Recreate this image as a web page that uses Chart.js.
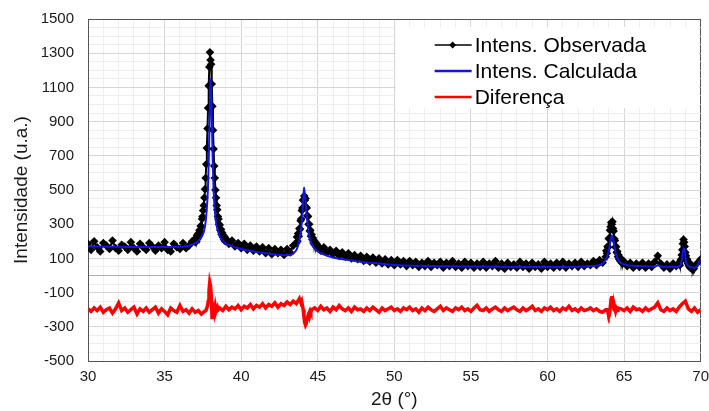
<!DOCTYPE html>
<html>
<head>
<meta charset="utf-8">
<script src="https://cdn.jsdelivr.net/npm/chart.js@4.4.0/dist/chart.umd.min.js"></script>
<style>
  html, body { margin: 0; padding: 0; background: #fff; }
  #wrap { width: 709px; height: 411px; position: relative; }
</style>
</head>
<body>
<div id="wrap"><canvas id="xrd"></canvas></div>
<script>
// Legend labels and tick labels
const seriesLabels = ['Intens. Observada', 'Intens. Calculada', 'Diferença'];
const xTickLabels = [30, 35, 40, 45, 50, 55, 60, 65, 70];
const yTickLabels = [-500, -300, -100, 100, 300, 500, 700, 900, 1100, 1300, 1500];

const obsStart = [30.0, 37.0, 39.0, 43.6, 45.0, 63.8, 65.0, 68.6, 69.6];
const obsStep  = [0.2, 0.04, 0.2, 0.04, 0.2, 0.04, 0.2, 0.04, 0.2];
const obsA = [185, 150, 200, 165, 140, 190, 175, 155, 205, 160, 145, 180, 170, 150, 195, 160, 140, 185,
  165, 150, 190, 170, 145, 175, 160, 195, 150, 140, 185, 165, 155, 190, 160, 175, 200];
const obsB = [195, 220, 200, 235, 215, 245, 230, 265, 255, 290,
  285, 330, 345, 380, 410, 455, 505, 570, 650, 745,
  860, 980, 1110, 1220, 1305, 1260, 1235, 1120, 990, 850,
  740, 640, 570, 500, 455, 410, 385, 345, 330, 300,
  295, 265, 270, 240, 250, 225, 235, 210, 225, 200];
const obsC = [215, 185, 205, 170, 190, 160, 185, 150, 175, 145, 170, 140, 165, 130, 160, 125, 155, 130,
  150, 120, 155, 135, 175];
const obsD = [190, 225, 200, 245, 230, 275, 270, 320, 330, 380,
  395, 440, 445, 465, 440, 450, 400, 395, 350, 345,
  300, 300, 260, 265, 230, 240, 210, 220, 190, 205,
  180, 195, 170, 185, 165];
const obsE = [175, 145, 165, 135, 150, 125, 145, 115, 135, 110, 130, 100, 120, 95, 115,
  85, 110, 80, 105, 75, 100, 70, 95, 65, 90, 60, 90, 65, 85, 55,
  85, 60, 80, 50, 75, 55, 85, 50, 75, 60, 80, 45, 75, 55, 85,
  50, 70, 45, 80, 55, 75, 45, 70, 50, 80, 45, 70, 55, 85, 45,
  70, 40, 75, 50, 65, 45, 80, 50, 70, 40, 75, 50, 65, 40, 80,
  50, 70, 45, 75, 50, 80, 45, 70, 55, 75, 50, 80, 55, 70, 60,
  85, 60, 90, 75];
const obsF = [110, 145, 130, 170, 165, 215, 220, 265, 285, 310,
  300, 315, 275, 260, 215, 205, 165, 170, 135, 140,
  110, 120, 95, 105, 85, 95, 75, 90, 70, 85];
const obsG = [80, 55, 75, 45, 70, 50, 75, 45, 70, 50, 80, 115, 70, 45, 65, 40, 70, 55];
const obsH = [75, 60, 85, 95, 120, 150, 185, 210, 195, 170, 135, 115, 90, 95, 70, 80, 55, 65, 45, 60,
  40, 55, 35, 50, 40];
const obsI = [55, 75, 95];
const obsRuns = [obsA, obsB, obsC, obsD, obsE, obsF, obsG, obsH, obsI];

// Calculated (fitted) profile
const calcTheta = [30, 32, 34, 36, 36.8, 37.2, 37.5, 37.6, 37.7, 37.8, 37.85, 37.9, 37.95, 38.0, 38.05,
  38.1, 38.15, 38.2, 38.3, 38.4, 38.6, 38.9, 39.3, 40, 41, 42, 43, 43.4, 43.7, 43.9, 44.0, 44.1,
  44.15, 44.25, 44.35, 44.5, 44.7, 45, 45.5, 46, 47, 48, 49, 50, 52, 55, 58, 61, 63, 63.6, 63.9,
  64.05, 64.2, 64.35, 64.5, 64.7, 65, 66, 67, 67.2, 67.4, 68.5, 68.75, 68.88, 68.95, 69.05, 69.3,
  69.6, 69.8, 70];
const calcIntensity = [170, 168, 166, 168, 180, 200, 240, 270, 330, 450, 560, 750, 950, 1150, 1050,
  850, 650, 500, 360, 290, 230, 195, 175, 155, 138, 125, 118, 128, 170, 260, 360, 515,
  480, 380, 290, 210, 170, 140, 120, 105, 90, 78, 70, 62, 56, 52, 50, 50, 55, 70, 110,
  170, 235, 180, 115, 80, 65, 55, 52, 60, 52, 50, 80, 160, 150, 80, 50,
  45, 60, 95];

// Difference curve (offset below zero), runs as above
const diffStart = [30.0, 37.7, 38.6, 43.9, 44.8, 63.9, 64.8];
const diffStep  = [0.2, 0.05, 0.2, 0.05, 0.2, 0.05, 0.2];
const diffA = [-195, -210, -190, -205, -185, -215, -200, -190, -220, -195,
  -160, -205, -190, -215, -200, -185, -225, -195, -210, -190,
  -215, -200, -185, -220, -195, -210, -230, -190, -205, -215,
  -175, -210, -200, -220, -195, -215, -205, -225, -210];
const diffB = [-205, -190, -180, -150, -90, -40, -60, -120, -245, -230, -190, -205, -180, -210, -195, -185, -200];
const diffC = [-190, -205, -180, -200, -185, -195, -175, -200, -180, -190, -170, -195, -175, -185,
  -165, -190, -170, -180, -160, -185, -165, -175, -155, -170, -150, -165, -135];
const diffD = [-160, -150, -175, -200, -240, -275, -290, -280, -255, -240, -225, -215, -205, -215, -200];
const diffE = [-190, -205, -180, -200, -190, -210, -185, -200, -175, -195,
  -205, -190, -210, -185, -200, -195, -210, -190, -205, -185,
  -200, -215, -190, -205, -195, -185, -205, -195, -210, -190,
  -200, -185, -205, -195, -215, -190, -205, -185, -200, -210,
  -195, -180, -205, -190, -200, -210, -190, -200, -185, -205,
  -195, -210, -190, -175, -200, -205, -190, -210, -195, -185,
  -200, -210, -190, -205, -195, -185, -200, -210, -190, -205,
  -195, -180, -205, -195, -210, -190, -200, -185, -205, -195,
  -210, -190, -200, -180, -205, -195, -210, -190, -205, -200,
  -190, -205, -195, -210, -215, -200];
const diffF = [-200, -215, -240, -225, -185, -140, -120, -145, -180, -200, -190, -210, -195, -205, -190];
const diffG = [-195, -205, -190, -210, -185, -200, -195, -210, -190, -205, -195, -185, -160, -200,
  -210, -190, -205, -195, -210, -185, -165, -150, -195, -210, -190, -215, -200];
const diffRuns = [diffA, diffB, diffC, diffD, diffE, diffF, diffG];

function runsToPoints(starts, steps, runs) {
  const pts = [];
  runs.forEach((vals, r) => {
    vals.forEach((v, i) => pts.push({ x: +(starts[r] + i * steps[r]).toFixed(2), y: v }));
  });
  return pts;
}

const observed = runsToPoints(obsStart, obsStep, obsRuns);
const calculated = calcTheta.map((t, i) => ({ x: t, y: calcIntensity[i] }));
const difference = runsToPoints(diffStart, diffStep, diffRuns);

const FONT = '"Liberation Sans", Arial, sans-serif';
Chart.defaults.font.family = FONT;
Chart.defaults.color = '#1a1a1a';

// Legend drawn as a white box inside the plot, upper right
const legendBox = {
  id: 'legendBox',
  afterDatasetsDraw(chart) {
    const ctx = chart.ctx;
    const a = chart.chartArea;
    const x0 = a.right - 305, y0 = a.top + 8;
    ctx.save();
    ctx.fillStyle = '#fff';
    ctx.fillRect(x0, y0, 303, 81);
    ctx.font = '21px ' + FONT;
    ctx.textBaseline = 'middle';
    chart.data.datasets.forEach((ds, i) => {
      const y = y0 + 18 + i * 26;
      ctx.strokeStyle = ds.borderColor;
      ctx.lineWidth = i === 0 ? 1.5 : 2.5;
      ctx.beginPath();
      ctx.moveTo(x0 + 39, y);
      ctx.lineTo(x0 + 76, y);
      ctx.stroke();
      if (i === 0) {
        const cx = x0 + 57;
        ctx.fillStyle = '#000';
        ctx.beginPath();
        ctx.moveTo(cx, y - 3.5);
        ctx.lineTo(cx + 3.5, y);
        ctx.lineTo(cx, y + 3.5);
        ctx.lineTo(cx - 3.5, y);
        ctx.closePath();
        ctx.fill();
      }
      ctx.fillStyle = '#000';
      ctx.fillText(ds.label, x0 + 79, y + 1);
    });
    ctx.restore();
  }
};

new Chart(document.getElementById('xrd').getContext('2d'), {
  type: 'line',
  data: {
    datasets: [
      {
        label: seriesLabels[0],
        data: observed,
        borderColor: '#000',
        borderWidth: 2,
        pointStyle: 'rectRot',
        pointRadius: 4.3,
        pointBackgroundColor: '#000',
        pointBorderWidth: 0,
        order: 3
      },
      {
        label: seriesLabels[1],
        data: calculated,
        borderColor: '#1414e6',
        borderWidth: 2,
        pointRadius: 0,
        cubicInterpolationMode: 'monotone',
        order: 1
      },
      {
        label: seriesLabels[2],
        data: difference,
        borderColor: '#ff0000',
        borderWidth: 3.5,
        pointRadius: 0,
        order: 2
      }
    ]
  },
  options: {
    responsive: true,
    maintainAspectRatio: false,
    animation: false,
    devicePixelRatio: 1,
    layout: { padding: { top: 19, right: 8, left: 0, bottom: 0 } },
    plugins: {
      legend: { display: false },
      tooltip: { enabled: false }
    },
    scales: {
      x: {
        type: 'linear',
        min: 30,
        max: 70,
        afterFit: (s) => { s.height = 50; },
        border: { display: true, color: '#555', width: 1 },
        grid: {
          drawTicks: true,
          tickLength: 7,
          tickColor: 'rgba(0,0,0,0)',
          color: (c) => {
            const v = c.tick.value;
            if (v === 70) return '#555';
            return v % 5 === 0 ? '#d6d6d6' : '#eeeeee';
          }
        },
        ticks: {
          stepSize: 1,
          autoSkip: false,
          maxRotation: 0,
          maxTicksLimit: 100,
          padding: 0,
          font: { size: 15 },
          callback: (v) => xTickLabels.includes(v) ? String(v) : ''
        },
        title: {
          display: true,
          text: '2θ (°)',
          font: { size: 19, lineHeight: 1.2 },
          padding: { top: 0, bottom: 0 }
        }
      },
      y: {
        min: -500,
        max: 1500,
        afterFit: (s) => { s.width = 88; },
        border: { display: true, color: '#555', width: 1 },
        grid: {
          drawTicks: true,
          tickLength: 14,
          tickColor: 'rgba(0,0,0,0)',
          color: (c) => {
            const v = c.tick.value;
            if (v === 1500) return '#555';
            if (v === 0) return '#b0b0b0';
            return yTickLabels.includes(v) ? '#d6d6d6' : '#eeeeee';
          }
        },
        ticks: {
          stepSize: 50,
          autoSkip: false,
          maxTicksLimit: 100,
          padding: 0,
          font: { size: 15 },
          callback: (v) => yTickLabels.includes(v) ? String(v) : ''
        },
        title: {
          display: true,
          text: 'Intensidade (u.a.)',
          font: { size: 19, lineHeight: 1.2 },
          padding: { top: 10, bottom: 0 }
        }
      }
    }
  },
  plugins: [legendBox]
});
</script>
</body>
</html>
